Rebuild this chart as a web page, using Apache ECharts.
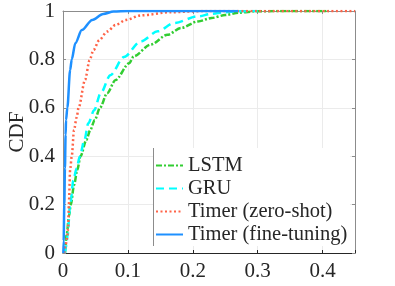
<!DOCTYPE html>
<html><head><meta charset="utf-8">
<script src="https://cdn.jsdelivr.net/npm/echarts@6/dist/echarts.min.js"></script>
<style>html,body{margin:0;padding:0;background:#fff}#c{width:395px;height:286px}</style>
</head><body><div id="c"></div>
<script>
// Data
const seriesNames = ['LSTM', 'GRU', 'Timer (zero-shot)', 'Timer (fine-tuning)'];
const xTicks = [0, 0.1, 0.2, 0.3, 0.4];
const yTicks = [0, 0.2, 0.4, 0.6, 0.8, 1];

const lstmX = [0.003, 0.006, 0.009, 0.012, 0.017, 0.022, 0.027, 0.036, 0.042, 0.049, 0.057, 0.068, 0.081, 0.102, 0.109, 0.135, 0.161, 0.182, 0.208, 0.229, 0.25, 0.27, 0.3, 0.35, 0.41];
const lstmY = [0, 0.08, 0.15, 0.2, 0.28, 0.343, 0.4, 0.467, 0.508, 0.55, 0.6, 0.66, 0.715, 0.784, 0.813, 0.861, 0.902, 0.93, 0.957, 0.971, 0.983, 0.993, 0.999, 1, 1];

const gruX = [0.003, 0.005, 0.007, 0.011, 0.016, 0.021, 0.026, 0.033, 0.039, 0.048, 0.058, 0.073, 0.094, 0.12, 0.146, 0.171, 0.208, 0.229, 0.25, 0.27, 0.3];
const gruY = [0, 0.03, 0.07, 0.2, 0.3, 0.35, 0.4, 0.467, 0.536, 0.59, 0.66, 0.735, 0.81, 0.875, 0.916, 0.95, 0.978, 0.988, 0.995, 0.999, 1];

const zeroX = [0.002, 0.004, 0.006, 0.008, 0.009, 0.011, 0.0135, 0.017, 0.021, 0.024, 0.034, 0.041, 0.047, 0.056, 0.068, 0.081, 0.097, 0.12, 0.166, 0.22, 0.3, 0.45];
const zeroY = [0, 0.03, 0.06, 0.1, 0.2, 0.343, 0.4, 0.508, 0.56, 0.6, 0.715, 0.797, 0.839, 0.88, 0.915, 0.942, 0.963, 0.982, 0.995, 1, 1, 1];

const fineX = [0.0005, 0.001, 0.002, 0.003, 0.004, 0.0047, 0.0067, 0.011, 0.0135, 0.019, 0.029, 0.045, 0.062, 0.078, 0.1, 0.27];
const fineY = [0, 0.05, 0.2, 0.35, 0.488, 0.55, 0.6, 0.756, 0.8, 0.867, 0.921, 0.963, 0.988, 0.998, 1, 1];

function pairs(xs, ys) { return xs.map((x, i) => [x, ys[i]]); }

const FONT = 'Liberation Serif';
const chart = echarts.init(document.getElementById('c'), null, {renderer: 'canvas'});
const gridCol = '#ebebeb';
const splitLine = {show: true, lineStyle: {color: gridCol, width: 1}};

const option = {
  backgroundColor: '#fff',
  animation: false,
  grid: {left: 63, right: 40, top: 11, bottom: 33, containLabel: false, outerBoundsMode: 'none'},
  xAxis: [{
    type: 'value', min: 0, max: 0.45, interval: 0.1, position: 'bottom',
    axisLine: {show: true, onZero: false, lineStyle: {color: '#262626', width: 1}},
    axisTick: {show: true, inside: true, length: 3, lineStyle: {color: '#262626'}},
    axisLabel: {fontFamily: FONT, fontSize: 21, color: '#262626', margin: 8,
      formatter: v => (xTicks.indexOf(+v.toFixed(2)) >= 0 ? String(+v.toFixed(2)) : '')},
    splitLine: splitLine
  }, {
    type: 'value', min: 0, max: 0.45, interval: 0.1, position: 'top',
    axisLine: {show: true, onZero: false, lineStyle: {color: '#8c8c8c', width: 1}},
    axisTick: {show: true, inside: true, length: 3, lineStyle: {color: '#8c8c8c'}},
    axisLabel: {show: false}, splitLine: {show: false}
  }],
  yAxis: [{
    type: 'value', min: 0, max: 1, interval: 0.2, position: 'left',
    name: 'CDF', nameLocation: 'middle', nameGap: 35, nameRotate: 90, nameMoveOverlap: false,
    nameTextStyle: {fontFamily: FONT, fontSize: 21, color: '#262626'},
    axisLine: {show: true, onZero: false, lineStyle: {color: '#8c8c8c', width: 1}},
    axisTick: {show: true, inside: true, length: 3, lineStyle: {color: '#8c8c8c'}},
    axisLabel: {fontFamily: FONT, fontSize: 21, color: '#262626', margin: 8,
      formatter: v => String(+v.toFixed(1))},
    splitLine: splitLine
  }, {
    type: 'value', min: 0, max: 1, interval: 0.2, position: 'right',
    axisLine: {show: true, onZero: false, lineStyle: {color: '#8c8c8c', width: 1}},
    axisTick: {show: true, inside: true, length: 3, lineStyle: {color: '#8c8c8c'}},
    axisLabel: {show: false}, splitLine: {show: false}
  }],
  legend: {
    data: seriesNames, orient: 'vertical', left: 155, top: 155, padding: 0,
    itemWidth: 27, itemHeight: 4, itemGap: 2,
    itemStyle: {opacity: 0},
    textStyle: {fontFamily: FONT, fontSize: 20.5, color: '#262626'},
    z: 6
  },
  graphic: [
    {type: 'rect', shape: {x: 153, y: 148, width: 197, height: 98}, style: {fill: '#fff'}, z: 3, silent: true},
    {type: 'line', shape: {x1: 153.5, y1: 148, x2: 153.5, y2: 246}, style: {stroke: '#8c8c8c', lineWidth: 1}, z: 4, silent: true}
  ],
  series: [
    {name: seriesNames[0], type: 'line', data: pairs(lstmX, lstmY), smooth: 0.3, smoothMonotone: 'x', showSymbol: false, symbol: 'none',
      lineStyle: {color: '#32CD32', width: 2.5, type: [6, 2, 2, 2]}, itemStyle: {color: '#32CD32'}, z: 5},
    {name: seriesNames[1], type: 'line', data: pairs(gruX, gruY), smooth: 0.3, smoothMonotone: 'x', showSymbol: false, symbol: 'none',
      lineStyle: {color: '#00FFFF', width: 2.5, type: [8, 5]}, itemStyle: {color: '#00FFFF'}, z: 5},
    {name: seriesNames[2], type: 'line', data: pairs(zeroX, zeroY), smooth: 0.3, smoothMonotone: 'x', showSymbol: false, symbol: 'none',
      lineStyle: {color: '#FF6347', width: 2.5, type: [2, 2.5]}, itemStyle: {color: '#FF6347'}, z: 5},
    {name: seriesNames[3], type: 'line', data: pairs(fineX, fineY), smooth: 0.3, smoothMonotone: 'x', showSymbol: false, symbol: 'none',
      lineStyle: {color: '#1E90FF', width: 2.5, type: 'solid'}, itemStyle: {color: '#1E90FF'}, z: 5}
  ]
};
chart.setOption(option);
</script></body></html>
